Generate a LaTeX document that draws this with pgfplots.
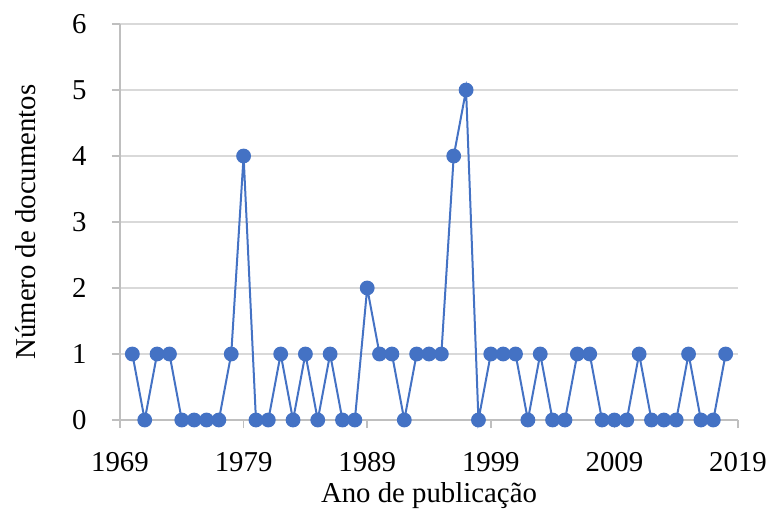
\documentclass[border=0pt]{standalone}
\usepackage{pgfplots}
\pgfplotsset{compat=1.18}
\usepackage{fontspec}
\setmainfont{Liberation Serif}
\definecolor{exblue}{HTML}{4472C4}
\definecolor{gridgray}{HTML}{D9D9D9}
\definecolor{axgray}{HTML}{BFBFBF}
\begin{document}
\begin{tikzpicture}
\begin{axis}[
  at={(0,0)}, anchor=south west,
  scale only axis, width=309pt, height=198pt,
  xmin=1969, xmax=2019, ymin=0, ymax=6,
  xtick={1969,1979,1989,1999,2009,2019},
  ytick={0,1,2,3,4,5,6},
  axis lines*=left,
  axis line style={axgray, line width=0.75pt, -},
  tick align=outside,
  major tick length=4pt,
  tick style={axgray, line width=0.75pt},
  ymajorgrids,
  grid style={gridgray, line width=0.75pt},
  clip=false,
  font=\fontsize{14.4}{17}\selectfont,
  /pgf/number format/assume math mode=true,
  /pgf/number format/1000 sep={},
  xticklabel style={anchor=base, inner sep=0pt, yshift=-21.5pt},
  yticklabel style={anchor=east, inner sep=0pt, xshift=-12.5pt},
  xlabel={Ano de publicação},
  ylabel={Número de documentos},
  xlabel style={at={(axis description cs:0.5,-0.2071)}, anchor=base, inner sep=0pt},
  ylabel style={at={(axis description cs:-0.1375,0.5)}, anchor=base, rotate=0, inner sep=0pt},
]
\addplot[exblue, line width=1pt, mark=*, mark size=3.2pt, mark options={fill=exblue, draw=exblue}] table {
x y
1970 1
1971 0
1972 1
1973 1
1974 0
1975 0
1976 0
1977 0
1978 1
1979 4
1980 0
1981 0
1982 1
1983 0
1984 1
1985 0
1986 1
1987 0
1988 0
1989 2
1990 1
1991 1
1992 0
1993 1
1994 1
1995 1
1996 4
1997 5
1998 0
1999 1
2000 1
2001 1
2002 0
2003 1
2004 0
2005 0
2006 1
2007 1
2008 0
2009 0
2010 0
2011 1
2012 0
2013 0
2014 0
2015 1
2016 0
2017 0
2018 1
};
\end{axis}
\pgfresetboundingbox
\path[use as bounding box] (-60pt,-44pt) rectangle (324.5pt,210pt);
\end{tikzpicture}
\end{document}
